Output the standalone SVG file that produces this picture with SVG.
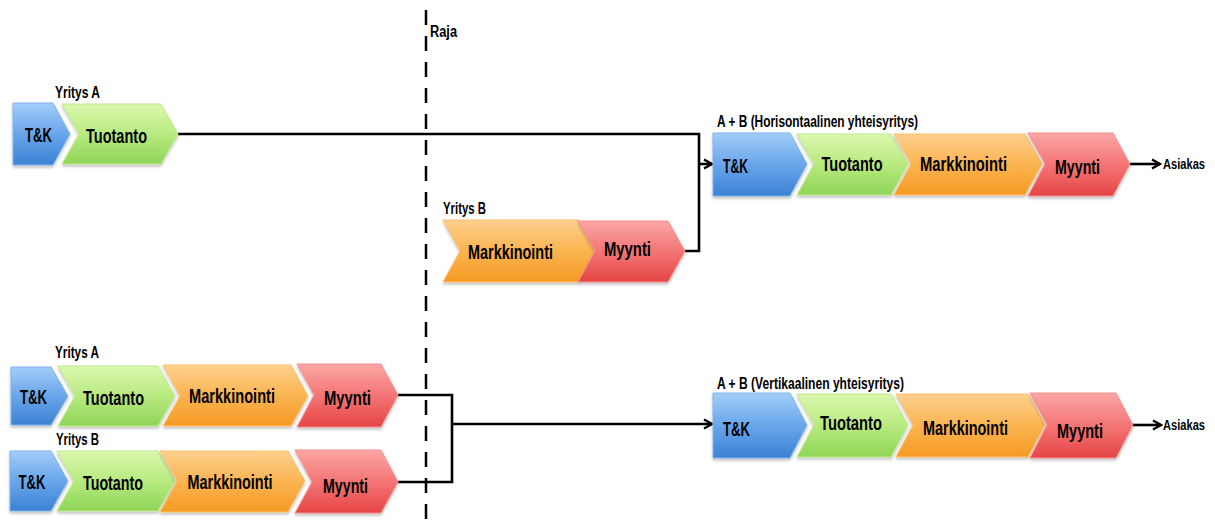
<svg xmlns="http://www.w3.org/2000/svg" width="1215" height="528" viewBox="0 0 1215 528">
<style>
text{font-family:"Liberation Sans Narrow","Liberation Sans",Arial,sans-serif;fill:#000;}
.lbl{font-size:21px;font-weight:bold;text-anchor:middle;}
.cap{font-size:16px;font-weight:bold;}
.end{font-size:14px;font-weight:bold;}
.conn{fill:none;stroke:#000;stroke-width:2.6;}
.blue{fill:url(#gBlue);stroke:#7fb3ec;stroke-width:1;filter:url(#sh);}
.green{fill:url(#gGreen);stroke:#c0ea8f;stroke-width:1;filter:url(#sh);}
.orange{fill:url(#gOrange);stroke:#fbc070;stroke-width:1;filter:url(#sh);}
.red{fill:url(#gRed);stroke:#f59090;stroke-width:1;filter:url(#sh);}
</style>
<defs>
<linearGradient id="gBlue" x1="0" y1="0" x2="0" y2="1"><stop offset="0" stop-color="#a3cdf8"/><stop offset="0.5" stop-color="#68a6ea"/><stop offset="1" stop-color="#3b82d4"/></linearGradient>
<linearGradient id="gGreen" x1="0" y1="0" x2="0" y2="1"><stop offset="0" stop-color="#dbf8ae"/><stop offset="0.5" stop-color="#b8ea80"/><stop offset="1" stop-color="#8ed556"/></linearGradient>
<linearGradient id="gOrange" x1="0" y1="0" x2="0" y2="1"><stop offset="0" stop-color="#fdd08e"/><stop offset="0.5" stop-color="#fbb451"/><stop offset="1" stop-color="#f59a24"/></linearGradient>
<linearGradient id="gRed" x1="0" y1="0" x2="0" y2="1"><stop offset="0" stop-color="#fca6a6"/><stop offset="0.5" stop-color="#f47575"/><stop offset="1" stop-color="#e64545"/></linearGradient>
<filter id="sh" x="-10%" y="-10%" width="125%" height="130%"><feDropShadow dx="0" dy="2" stdDeviation="1.5" flood-color="#000" flood-opacity="0.25"/></filter>
<marker id="arr" viewBox="0 0 12 12" refX="10" refY="6" markerWidth="12" markerHeight="12" markerUnits="userSpaceOnUse" orient="auto"><path d="M2,1.5 L10,6 L2,10.5" fill="none" stroke="#000" stroke-width="2.4"/></marker>
</defs>
<rect width="1215" height="528" fill="#fff"/>

<g id="raja">
<line x1="426" y1="10" x2="426" y2="528" stroke="#000" stroke-width="2.5" stroke-dasharray="15 11"/>
<text class="cap" x="430" y="37" textLength="27" lengthAdjust="spacingAndGlyphs">Raja</text>
</g>

<g id="connectors">
<path class="conn" d="M178,134 H699 V251 H685"/>
<path class="conn" d="M699,164 H712" marker-end="url(#arr)"/>
<path class="conn" d="M1130,164 H1160" marker-end="url(#arr)"/>
<path class="conn" d="M398,395 H452 V482 H398"/>
<path class="conn" d="M452,424 H712" marker-end="url(#arr)"/>
<path class="conn" d="M1133,425 H1161" marker-end="url(#arr)"/>
</g>

<g id="yritysA-top">
<text class="cap" x="55" y="98" textLength="45" lengthAdjust="spacingAndGlyphs">Yritys A</text>
<path class="blue" d="M13,103 H53 L70,134 L53,165 H13 Z"/>
<text class="lbl" x="38.5" y="142" textLength="27" lengthAdjust="spacingAndGlyphs">T&amp;K</text>
<path class="green" d="M62,104 H161 L178,134 L161,164 H62 L79,134 Z"/>
<text class="lbl" x="116.5" y="143" textLength="61" lengthAdjust="spacingAndGlyphs">Tuotanto</text>
</g>

<g id="yritysB-mid">
<text class="cap" x="443" y="214" textLength="43" lengthAdjust="spacingAndGlyphs">Yritys B</text>
<path class="orange" d="M443,220 H578 L595,251 L578,282 H443 L460,251 Z"/>
<text class="lbl" x="510.5" y="259" textLength="85" lengthAdjust="spacingAndGlyphs">Markkinointi</text>
<path class="red" d="M578,221 H668 L685,251 L668,282 H578 L595,251 Z"/>
<text class="lbl" x="627.5" y="256" textLength="47" lengthAdjust="spacingAndGlyphs">Myynti</text>
</g>

<g id="horisontaalinen">
<text class="cap" x="717" y="127" textLength="201" lengthAdjust="spacingAndGlyphs">A + B (Horisontaalinen yhteisyritys)</text>
<path class="blue" d="M713,133 H790 L807,164 L790,196 H713 Z"/>
<path class="green" d="M797,134 H891 L908,164 L891,195 H797 L814,164 Z"/>
<path class="orange" d="M894,134 H1025 L1042,164 L1025,195 H894 L911,164 Z"/>
<path class="red" d="M1028,133 H1113 L1130,164 L1113,196 H1028 L1045,164 Z"/>
<text class="lbl" x="735.5" y="173" textLength="25" lengthAdjust="spacingAndGlyphs">T&amp;K</text>
<text class="lbl" x="852" y="171" textLength="61" lengthAdjust="spacingAndGlyphs">Tuotanto</text>
<text class="lbl" x="963.5" y="171" textLength="87" lengthAdjust="spacingAndGlyphs">Markkinointi</text>
<text class="lbl" x="1077.5" y="174" textLength="45" lengthAdjust="spacingAndGlyphs">Myynti</text>
<text class="end" x="1163" y="169" textLength="42" lengthAdjust="spacingAndGlyphs">Asiakas</text>
</g>

<g id="yritysA-bottom">
<text class="cap" x="55" y="358" textLength="44" lengthAdjust="spacingAndGlyphs">Yritys A</text>
<path class="blue" d="M11,367 H51 L68,396 L51,425 H11 Z"/>
<path class="green" d="M58,366 H158 L175,396 L158,426 H58 L75,396 Z"/>
<path class="orange" d="M163,365 H291 L308,396 L291,426 H163 L180,396 Z"/>
<path class="red" d="M297,364 H381 L398,395 L381,427 H297 L314,395 Z"/>
<text class="lbl" x="33.5" y="404" textLength="27" lengthAdjust="spacingAndGlyphs">T&amp;K</text>
<text class="lbl" x="113.5" y="405" textLength="61" lengthAdjust="spacingAndGlyphs">Tuotanto</text>
<text class="lbl" x="232" y="403" textLength="86" lengthAdjust="spacingAndGlyphs">Markkinointi</text>
<text class="lbl" x="347.5" y="405" textLength="47" lengthAdjust="spacingAndGlyphs">Myynti</text>
</g>

<g id="yritysB-bottom">
<text class="cap" x="56" y="445" textLength="43" lengthAdjust="spacingAndGlyphs">Yritys B</text>
<path class="blue" d="M10,451 H51 L68,481 L51,511 H10 Z"/>
<path class="green" d="M57,451 H158 L175,481 L158,511 H57 L74,481 Z"/>
<path class="orange" d="M160,451 H288 L305,481 L288,512 H160 L177,481 Z"/>
<path class="red" d="M295,450 H381 L398,482 L381,513 H295 L312,482 Z"/>
<text class="lbl" x="32" y="489" textLength="27" lengthAdjust="spacingAndGlyphs">T&amp;K</text>
<text class="lbl" x="113" y="490" textLength="60" lengthAdjust="spacingAndGlyphs">Tuotanto</text>
<text class="lbl" x="230" y="489" textLength="85" lengthAdjust="spacingAndGlyphs">Markkinointi</text>
<text class="lbl" x="345.5" y="493" textLength="45" lengthAdjust="spacingAndGlyphs">Myynti</text>
</g>

<g id="vertikaalinen">
<text class="cap" x="717" y="389" textLength="187" lengthAdjust="spacingAndGlyphs">A + B (Vertikaalinen yhteisyritys)</text>
<path class="blue" d="M713,393 H790 L807,425 L790,458 H713 Z"/>
<path class="green" d="M797,394 H891 L908,425 L891,457 H797 L814,425 Z"/>
<path class="orange" d="M896,394 H1028 L1045,425 L1028,457 H896 L913,425 Z"/>
<path class="red" d="M1030,393 H1116 L1133,425 L1116,458 H1030 L1047,425 Z"/>
<text class="lbl" x="736.5" y="436" textLength="27" lengthAdjust="spacingAndGlyphs">T&amp;K</text>
<text class="lbl" x="851" y="430" textLength="62" lengthAdjust="spacingAndGlyphs">Tuotanto</text>
<text class="lbl" x="965.5" y="435" textLength="85" lengthAdjust="spacingAndGlyphs">Markkinointi</text>
<text class="lbl" x="1080" y="438" textLength="46" lengthAdjust="spacingAndGlyphs">Myynti</text>
<text class="end" x="1163" y="430" textLength="42" lengthAdjust="spacingAndGlyphs">Asiakas</text>
</g>
</svg>
